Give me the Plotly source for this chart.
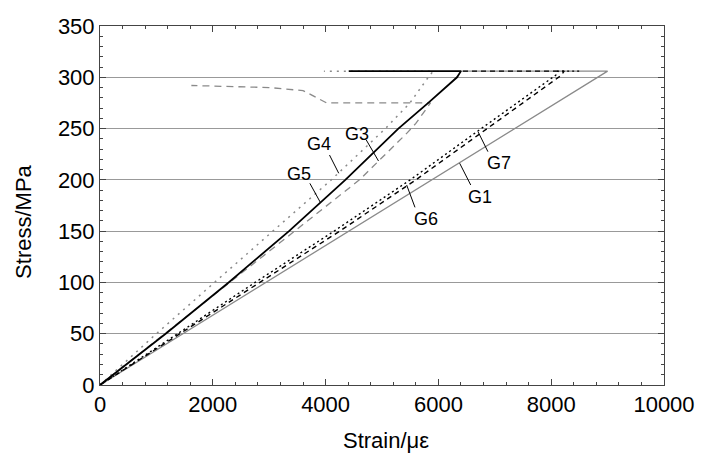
import plotly.graph_objects as go

# ---- data (strain in micro-strain, stress in MPa) ----
g1_x = [0, 9000, 6400]
g1_y = [0, 306, 306]

g5_x = [0, 1164, 2281, 3351, 4350, 5290, 5820, 6330, 6400, 4410]
g5_y = [0, 50, 100, 150, 200, 250, 275, 300, 306, 306]

g4_x = [0, 1000, 2030, 3060, 4100, 5060, 5495, 5820, 5908, 3970]
g4_y = [0, 50, 100, 150, 200, 250, 275, 300, 306, 306]

g3_x = [0, 1150, 2300, 3450, 4600, 5450, 5600, 5860, 4020, 3600, 3000, 1620]
g3_y = [0, 50, 100, 150, 200, 246, 255, 275, 275, 287, 290, 292]

g6_x = [0, 1370, 2750, 4150, 5500, 6760, 8080, 8120, 8500]
g6_y = [0, 50, 100, 150, 200, 250, 302, 306, 306]

g7_x = [0, 1420, 2850, 4250, 5600, 6860, 8180, 8230, 6400]
g7_y = [0, 50, 100, 150, 200, 250, 302, 306, 306]

labels = ["G4", "G3", "G5", "G7", "G1", "G6"]
label_x = [3880, 4550, 3527, 7067, 6732, 5785]
label_y = [235, 244.7, 205.7, 216.2, 183.6, 161.8]
lead_x0 = [4069, 4721, 3721, 6878, 6573, 5585]
lead_y0 = [224.2, 238.9, 196.6, 227.5, 195, 173.2]
lead_x1 = [4233, 4938, 3910, 6702, 6377, 5437]
lead_y1 = [206.4, 218.4, 177.7, 247, 216.2, 195]

x_ticks = [0, 2000, 4000, 6000, 8000, 10000]
x_ticktext = ["0", "2000", "4000", "6000", "8000", "10000"]
y_ticks = [0, 50, 100, 150, 200, 250, 300, 350]

FONT = "Liberation Sans, Arial, sans-serif"
GREY = "#8a8a8a"

fig = go.Figure()
fig.add_trace(go.Scatter(x=g1_x, y=g1_y, mode="lines", line=dict(color=GREY, width=1.3)))
fig.add_trace(go.Scatter(x=g3_x, y=g3_y, mode="lines", line=dict(color=GREY, width=1.3, dash="7px,5px")))
fig.add_trace(go.Scatter(x=g4_x, y=g4_y, mode="lines", line=dict(color=GREY, width=1.5, dash="2px,5px")))
fig.add_trace(go.Scatter(x=g6_x, y=g6_y, mode="lines", line=dict(color="black", width=1.4, dash="2px,3px")))
fig.add_trace(go.Scatter(x=g7_x, y=g7_y, mode="lines", line=dict(color="black", width=1.4, dash="5px,4px")))
fig.add_trace(go.Scatter(x=g5_x, y=g5_y, mode="lines", line=dict(color="black", width=1.8)))

for t, tx, ty, x0, y0, x1, y1 in zip(labels, label_x, label_y, lead_x0, lead_y0, lead_x1, lead_y1):
    fig.add_annotation(x=tx, y=ty, text=t, showarrow=False, font=dict(family=FONT, size=18, color="black"))
    fig.add_shape(type="line", x0=x0, y0=y0, x1=x1, y1=y1, xref="x", yref="y",
                  line=dict(color="black", width=1))

# axis titles
fig.add_annotation(x=0, xref="paper", xshift=-76, xanchor="center", y=159, yref="y", yanchor="middle",
                   text="Stress/MPa", textangle=-90,
                   showarrow=False, font=dict(family=FONT, size=22, color="black"))
fig.add_annotation(x=5062, xref="x", xanchor="center", y=0, yref="paper", yanchor="middle", yshift=-55,
                   text="Strain/με",
                   showarrow=False, font=dict(family=FONT, size=22, color="black"))

fig.update_layout(
    width=707, height=459,
    margin=dict(l=100, r=40, t=26, b=74),
    plot_bgcolor="white", paper_bgcolor="white",
    showlegend=False,
    font=dict(family=FONT, size=22, color="black"),
)
fig.update_xaxes(range=[0, 10000], tickvals=x_ticks, ticktext=x_ticktext, ticks="inside", ticklen=6,
                 tickcolor="#444", showgrid=False, zeroline=False, showline=True, linecolor="#444",
                 linewidth=1, mirror="allticks",
                 minor=dict(dtick=400, ticks="inside", ticklen=3, tickcolor="#444"),
                 tickfont=dict(size=22))
fig.update_yaxes(range=[0, 350], tickvals=y_ticks, ticks="inside", ticklen=6, tickcolor="#444",
                 showgrid=True, gridcolor="#999", gridwidth=1, zeroline=False,
                 showline=True, linecolor="#444", linewidth=1, mirror="allticks",
                 minor=dict(dtick=10, ticks="inside", ticklen=3, tickcolor="#444", showgrid=False),
                 tickfont=dict(size=22))

fig.write_html("out.html")
